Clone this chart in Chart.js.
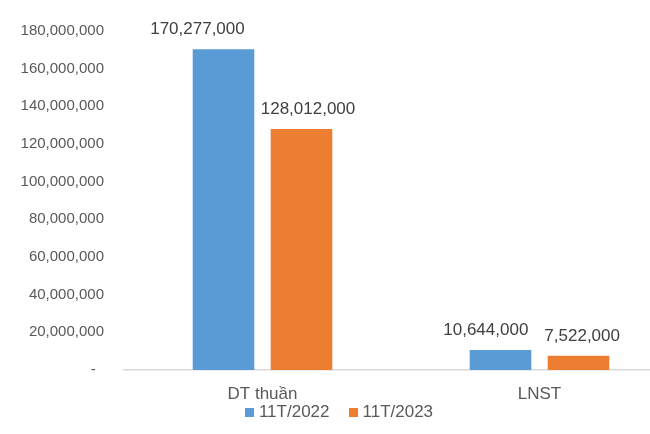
<!DOCTYPE html>
<html>
<head>
<meta charset="utf-8">
<script src="https://cdn.jsdelivr.net/npm/chart.js@4"></script>
<style>
html,body{margin:0;padding:0;background:#fff;overflow:hidden;}
#wrap{width:650px;height:434px;position:relative;overflow:hidden;}
#c{position:absolute;left:0;top:0;}
</style>
</head>
<body>
<div id="wrap"><canvas id="c" width="678" height="434"></canvas></div>
<script>
const categories = ["DT thuần", "LNST"];
const seriesNames = ["11T/2022", "11T/2023"];
const values2022 = [170277000, 10644000];
const values2023 = [128012000, 7522000];
const yTicks = [0, 20000000, 40000000, 60000000, 80000000, 100000000, 120000000, 140000000, 160000000, 180000000];

const FONT = "'Liberation Sans', Arial, sans-serif";
const fmt = v => v === 0 ? "-" : v.toLocaleString('en-US');

const labelPlugin = {
  id: 'valueLabels',
  afterDatasetsDraw(chart) {
    const ctx = chart.ctx;
    ctx.save();
    ctx.font = "17px " + FONT;
    ctx.fillStyle = "#404040";
    ctx.textAlign = "center";
    ctx.textBaseline = "middle";
    const n = chart.data.labels.length;
    for (let j = 0; j < n; j++) {
      const items = chart.data.datasets.map((ds, i) => {
        const bar = chart.getDatasetMeta(i).data[j];
        const text = fmt(ds.data[j]);
        return { text, x: bar.x, y: bar.y - 19.5, w: ctx.measureText(text).width };
      });
      for (let k = 0; k + 1 < items.length; k++) {
        const a = items[k], b = items[k + 1];
        const overlap = (a.x + a.w / 2) - (b.x - b.w / 2);
        if (overlap > 0) {
          const extra = overlap + 16;
          a.x -= extra * 0.8;
          b.x += extra * 0.2;
        }
      }
      items.forEach(it => ctx.fillText(it.text, it.x, it.y));
    }
    ctx.restore();
  }
};

const legendPlugin = {
  id: 'customLegend',
  afterDraw(chart) {
    const ctx = chart.ctx;
    ctx.save();
    ctx.font = "17px " + FONT;
    ctx.textBaseline = "middle";
    ctx.textAlign = "left";
    const box = 9, gapText = 5, gapItem = 19, cy = 412.5;
    const items = chart.data.datasets.map(ds => ({ text: ds.label, color: ds.backgroundColor, w: ctx.measureText(ds.label).width }));
    let total = 0;
    items.forEach((it, i) => { total += box + gapText + it.w + (i < items.length - 1 ? gapItem : 0); });
    let x = 339 - total / 2;
    items.forEach(it => {
      ctx.fillStyle = it.color;
      ctx.fillRect(Math.round(x), Math.round(cy - box / 2), box, box);
      ctx.fillStyle = "#595959";
      ctx.fillText(it.text, x + box + gapText, cy);
      x += box + gapText + it.w + gapItem;
    });
    ctx.restore();
  }
};

new Chart(document.getElementById('c'), {
  type: 'bar',
  data: {
    labels: categories,
    datasets: [
      { label: seriesNames[0], data: values2022, backgroundColor: '#5B9BD5', categoryPercentage: 0.563, barPercentage: 0.79 },
      { label: seriesNames[1], data: values2023, backgroundColor: '#ED7D31', categoryPercentage: 0.563, barPercentage: 0.79 }
    ]
  },
  options: {
    responsive: false,
    animation: false,
    devicePixelRatio: 1,
    layout: { padding: { left: 0, right: 0, top: 31, bottom: 15.6 } },
    plugins: {
      legend: { display: false },
      tooltip: { enabled: false }
    },
    scales: {
      x: {
        grid: { display: false, drawTicks: false },
        border: { display: true, color: '#d9d9d9', width: 1.5 },
        ticks: { color: '#595959', font: { family: FONT, size: 17 }, padding: 14 }
      },
      y: {
        min: 0, max: 180000000,
        afterBuildTicks: s => { s.ticks = yTicks.map(v => ({ value: v })); },
        afterFit: s => { s.width = 124; },
        grid: { display: false, drawTicks: false },
        border: { display: false },
        ticks: { color: '#595959', font: { family: FONT, size: 15 }, padding: 20, callback: v => v === 0 ? '-  ' : fmt(v) }
      }
    }
  },
  plugins: [labelPlugin, legendPlugin]
});
</script>
</body>
</html>
